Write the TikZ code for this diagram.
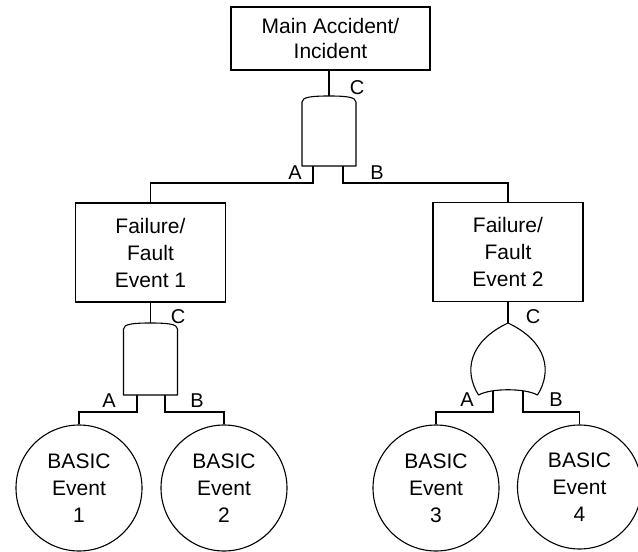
\documentclass[tikz,border=0pt]{standalone}
\usepackage{fontspec}
\setmainfont{Liberation Sans}
\begin{document}
\begin{tikzpicture}[x=1pt,y=-1pt, line width=1.1pt,
  topbox/.style={draw, minimum width=199pt, minimum height=63pt, align=center, inner sep=0pt, font=\fontsize{21}{25}\selectfont},
  evbox/.style={draw, minimum width=150pt, minimum height=99pt, align=center, inner sep=0pt, font=\fontsize{21}{27}\selectfont},
  basic/.style={draw, circle, minimum size=126pt, align=center, inner sep=0pt, font=\fontsize{21}{27}\selectfont},
  lbl/.style={inner sep=0pt, font=\fontsize{20}{20}\selectfont},
  gate/.style={draw, fill=white, line join=round}]
\useasboundingbox (0,0) rectangle (638,552);

% event boxes and basic events
\node[topbox] (top) at (330.5,38.5) {Main Accident/\\Incident};
\node[evbox] (f1) at (150.5,252.5) {Failure/\\Fault\\Event 1};
\node[evbox] (f2) at (508,252) {Failure/\\Fault\\Event 2};
\node[basic] (b1) at (79,488) {BASIC\\Event\\1};
\node[basic] (b2) at (224,488) {BASIC\\Event\\2};
\node[basic] (b3) at (436,488) {BASIC\\Event\\3};
\node[basic, minimum size=124pt] (b4) at (579.5,487) {BASIC\\Event\\4};

% gate coordinates
\coordinate (g1top) at (329,96);
\coordinate (g1a) at (313,160);
\coordinate (g1b) at (343,160);
\coordinate (g2top) at (150.5,323);
\coordinate (g2a) at (137,390);
\coordinate (g2b) at (165,390);
\coordinate (g3top) at (508,323);
\coordinate (g3a) at (493,388);
\coordinate (g3b) at (523,388);

% connectors
\draw (top.south -| g1top) -- (g1top);
\draw (g1a) -- ++(0,23) -| (f1.north);
\draw (g1b) -- ++(0,23) -| (f2.north);
\draw (f1.south) -- (g2top);
\draw (g2a) -- ++(0,22) -| (b1.north);
\draw (g2b) -- ++(0,22) -| (b2.north);
\draw (f2.south) -- (g3top);
\draw (g3a) -- ++(0,24) -| (b3.north);
\draw (g3b) -- ++(0,24) -| (b4.north);

% AND gate 1
\draw[gate] (302,166) -- (302,102) .. controls (302,97) and (312,96) .. (g1top)
  .. controls (346,96) and (356,97) .. (356,102) -- (356,166) -- cycle;
% AND gate 2
\draw[gate] (123.5,395) -- (123.5,329) .. controls (123.5,324) and (133.5,323) .. (g2top)
  .. controls (167.5,323) and (177.5,324) .. (177.5,329) -- (177.5,395) -- cycle;
% OR gate
\draw[gate] (478.5,395) .. controls (464,372) and (468,342) .. (g3top)
  .. controls (548,342) and (552,372) .. (537.5,395)
  .. controls (525,388) and (491,388) .. cycle;

% labels
\node[lbl] (c1) at (357,88) {C};
\node[lbl] (a1) at (295,173) {A};
\node[lbl] (bb1) at (377,173) {B};
\node[lbl] (c2) at (178,317) {C};
\node[lbl] (a2) at (109,401) {A};
\node[lbl] (bb2) at (197,401) {B};
\node[lbl] (c3) at (533,317) {C};
\node[lbl] (a3) at (467,400) {A};
\node[lbl] (bb3) at (556,400) {B};
\end{tikzpicture}
\end{document}
